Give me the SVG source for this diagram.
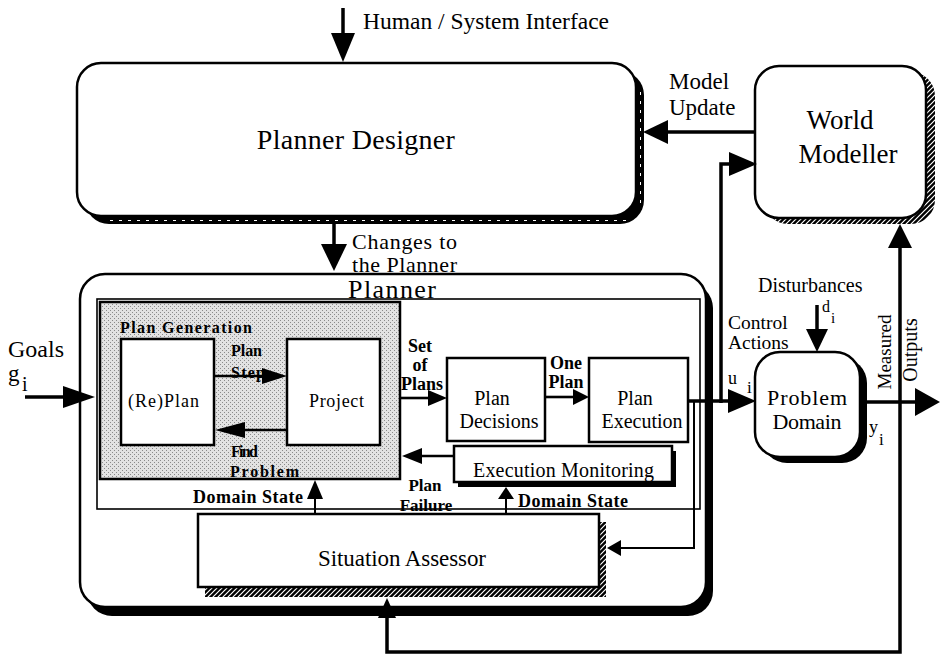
<svg xmlns="http://www.w3.org/2000/svg" width="940" height="661" viewBox="0 0 940 661">
  <defs>
    <pattern id="hatch" patternUnits="userSpaceOnUse" width="5" height="5">
      <rect width="5" height="5" fill="#000"/>
      <path d="M-1,1 L1,-1 M0,5 L5,0 M4,6 L6,4" stroke="#fff" stroke-width="1.2"/>
    </pattern>
    <pattern id="stipple" patternUnits="userSpaceOnUse" width="4" height="4">
      <rect width="4" height="4" fill="#e2e2e2"/>
      <rect x="0" y="0" width="1" height="1" fill="#8a8a8a"/>
      <rect x="2" y="2" width="1" height="1" fill="#8a8a8a"/>
    </pattern>
    <style>
      .box { fill: #fff; stroke: #000; stroke-width: 2.5; }
      .frame { fill: none; stroke: #000; stroke-width: 1.6; }
      .shadow { fill: #000; }
      .wire { fill: none; stroke: #000; stroke-width: 3.5; }
      .wire-m { fill: none; stroke: #000; stroke-width: 2.6; }
      .wire-s { fill: none; stroke: #000; stroke-width: 2; }
      .head { fill: #000; }
      .t { font-family: "Liberation Serif", "Times New Roman", serif; fill: #000; }
      .b { font-weight: bold; }
      .c { text-anchor: middle; }
    </style>
  </defs>

  <rect width="940" height="661" fill="#fff"/>

  <!-- Planner Designer -->
  <g id="planner-designer">
    <rect class="shadow" x="85" y="71" width="559" height="153" rx="24"/>
    <path d="M110,220.5 H628 M640.5,92 V204" stroke="#fff" stroke-width="1" stroke-dasharray="3 6" fill="none"/>
    <rect class="box" x="77" y="63" width="559" height="153" rx="24"/>
    <text class="t c" x="356" y="149" font-size="28" letter-spacing="0.3">Planner Designer</text>
  </g>

  <!-- World Modeller -->
  <g id="world-modeller">
    <rect x="764" y="72" width="171" height="152" rx="24" fill="url(#hatch)"/>
    <rect class="box" x="755" y="66" width="171" height="152" rx="24"/>
    <text class="t c" x="840" y="129" font-size="27">World</text>
    <text class="t c" x="848" y="163" font-size="27">Modeller</text>
  </g>

  <!-- Planner container -->
  <g id="planner">
    <rect class="shadow" x="87" y="283" width="626" height="333" rx="25"/>
    <rect class="box" x="80" y="274" width="626" height="333" rx="25" stroke-width="2"/>
    <text class="t" x="348" y="298" font-size="26" textLength="88" lengthAdjust="spacing">Planner</text>
    <rect class="frame" x="97" y="299" width="603" height="210"/>
  </g>

  <!-- Plan Generation group -->
  <g id="plan-generation">
    <rect x="100" y="302" width="300" height="177" fill="url(#stipple)" stroke="#000" stroke-width="2.5"/>
    <text class="t b" x="120" y="333" font-size="16" textLength="132" lengthAdjust="spacing">Plan Generation</text>
  </g>

  <g id="replan">
    <rect class="box" x="121" y="339" width="93" height="106"/>
    <text class="t" x="128" y="407" font-size="18" textLength="71" lengthAdjust="spacing">(Re)Plan</text>
  </g>

  <g id="project">
    <rect class="box" x="287" y="339" width="93" height="106"/>
    <text class="t" x="309" y="407" font-size="18" textLength="55" lengthAdjust="spacing">Project</text>
  </g>

  <g id="plan-decisions">
    <rect class="box" x="447" y="358" width="98" height="83"/>
    <text class="t c" x="492" y="405" font-size="20">Plan</text>
    <text class="t c" x="499" y="428" font-size="20">Decisions</text>
  </g>

  <g id="plan-execution">
    <rect class="box" x="589" y="358" width="99" height="84"/>
    <text class="t c" x="635" y="405" font-size="20">Plan</text>
    <text class="t c" x="642" y="428" font-size="20">Execution</text>
  </g>

  <g id="execution-monitoring">
    <rect class="shadow" x="458" y="451" width="218" height="36"/>
    <rect class="box" x="454" y="446" width="218" height="36" stroke-width="2"/>
    <text class="t" x="473" y="477" font-size="20" textLength="181" lengthAdjust="spacing">Execution Monitoring</text>
  </g>

  <g id="situation-assessor">
    <rect x="205" y="522" width="401" height="75" fill="url(#hatch)"/>
    <rect class="box" x="198" y="514" width="401" height="73" stroke-width="2"/>
    <text class="t" x="318" y="566" font-size="23" textLength="168" lengthAdjust="spacing">Situation Assessor</text>
  </g>

  <g id="problem-domain">
    <rect class="shadow" x="762" y="358" width="105" height="105" rx="25"/>
    <rect class="box" x="755" y="352" width="105" height="105" rx="25"/>
    <text class="t c" x="807" y="405" font-size="22" textLength="80" lengthAdjust="spacing">Problem</text>
    <text class="t c" x="807" y="429" font-size="22" textLength="69" lengthAdjust="spacing">Domain</text>
  </g>

  <!-- Connectors -->
  <g id="connectors">
    <!-- Human / System Interface -->
    <path class="wire" d="M343,8 V34"/>
    <polygon class="head" points="331,33 355,33 343,62"/>

    <!-- Model Update -->
    <path class="wire" d="M755,132 H666"/>
    <polygon class="head" points="668,120 668,144 643,132"/>

    <!-- Changes to the Planner -->
    <path class="wire" d="M334,224 V245"/>
    <polygon class="head" points="321,244 347,244 334,271"/>

    <!-- Goals -->
    <path class="wire" d="M25,397 H65"/>
    <polygon class="head" points="63,386 63,408 95,397"/>

    <!-- Plan Step -->
    <path class="wire-m" d="M214,376 H264"/>
    <polygon class="head" points="262,368 262,384 287,376"/>

    <!-- Find Problem -->
    <path class="wire-m" d="M287,430 H242"/>
    <polygon class="head" points="245,422 245,438 215,430"/>

    <!-- Set of Plans -->
    <path class="wire-m" d="M400,398 H430"/>
    <polygon class="head" points="428,390 428,406 447,398"/>

    <!-- One Plan -->
    <path class="wire-m" d="M545,397 H575"/>
    <polygon class="head" points="573,389 573,405 589,397"/>

    <!-- Plan Failure -->
    <path class="wire-m" d="M454,456 H420"/>
    <polygon class="head" points="422,448 422,464 402,456"/>

    <!-- Domain State to Execution Monitoring -->
    <path class="wire-s" d="M506,514 V496"/>
    <polygon class="head" points="498,499 514,499 506,487"/>

    <!-- Domain State to Plan Generation -->
    <path class="wire-s" d="M315,514 V496"/>
    <polygon class="head" points="307,499 323,499 315,480"/>

    <!-- Control actions out of Plan Execution -->
    <path class="wire" d="M688,401 H730"/>
    <polygon class="head" points="728,389 728,413 756,401"/>

    <!-- Branch up to World Modeller -->
    <path class="wire" d="M721,403 V164 H731"/>
    <polygon class="head" points="729,152 729,176 757,164"/>

    <!-- Branch down to Situation Assessor -->
    <path class="wire-s" d="M694,401 V548 H618"/>
    <polygon class="head" points="621,540 621,556 607,548"/>

    <!-- Disturbances -->
    <path class="wire" d="M817,305 V331"/>
    <polygon class="head" points="806,329 828,329 817,352"/>

    <!-- Measured outputs -->
    <path class="wire" d="M860,402 H917"/>
    <polygon class="head" points="915,388 915,416 940,402"/>

    <!-- Feedback of measured outputs -->
    <path class="wire" d="M900,246 V652 H387 V616"/>
    <polygon class="head" points="888,248 912,248 900,224"/>
    <polygon class="head" points="378,618 396,618 387,598"/>
  </g>

  <!-- Labels -->
  <g id="labels">
    <text class="t" x="363" y="29" font-size="23.5">Human / System Interface</text>
    <text class="t" x="669" y="89" font-size="23">Model</text>
    <text class="t" x="669" y="115" font-size="23">Update</text>
    <text class="t" x="352" y="249" font-size="22" textLength="105" lengthAdjust="spacing">Changes to</text>
    <text class="t" x="352" y="272" font-size="22" textLength="105" lengthAdjust="spacing">the Planner</text>

    <text class="t" x="8" y="357" font-size="24">Goals</text>
    <text class="t" x="8" y="381" font-size="23">g</text>
    <text class="t" x="22" y="391" font-size="20">i</text>

    <text class="t b" x="231" y="356" font-size="16" textLength="31" lengthAdjust="spacing">Plan</text>
    <text class="t b" x="231" y="378" font-size="16" textLength="34" lengthAdjust="spacing">Step</text>
    <text class="t b" x="231" y="457" font-size="16" textLength="27" lengthAdjust="spacing">Find</text>
    <text class="t b" x="230" y="477" font-size="16" textLength="69" lengthAdjust="spacing">Problem</text>

    <text class="t b c" x="420" y="352" font-size="18">Set</text>
    <text class="t b c" x="420" y="371" font-size="18">of</text>
    <text class="t b c" x="422" y="390" font-size="18">Plans</text>

    <text class="t b c" x="566" y="369" font-size="18">One</text>
    <text class="t b c" x="566" y="388" font-size="18">Plan</text>

    <text class="t b c" x="425" y="491" font-size="17">Plan</text>
    <text class="t b c" x="426" y="511" font-size="17">Failure</text>

    <text class="t b" x="193" y="503" font-size="18" textLength="110" lengthAdjust="spacing">Domain State</text>
    <text class="t b" x="518" y="507" font-size="18" textLength="110" lengthAdjust="spacing">Domain State</text>

    <text class="t" x="758" y="292" font-size="20">Disturbances</text>
    <text class="t" x="822" y="312" font-size="16">d</text>
    <text class="t" x="831" y="323" font-size="15">i</text>

    <text class="t" x="728" y="329" font-size="19.5">Control</text>
    <text class="t" x="728" y="349" font-size="19.5">Actions</text>
    <text class="t" x="728" y="384" font-size="18">u</text>
    <text class="t" x="747" y="393" font-size="17">i</text>

    <text class="t" x="869" y="433" font-size="18">y</text>
    <text class="t" x="879" y="445" font-size="17">i</text>

    <text class="t c" transform="translate(891,352) rotate(-90)" font-size="19">Measured</text>
    <text class="t c" transform="translate(917,350) rotate(-90)" font-size="20">Outputs</text>
  </g>
</svg>
